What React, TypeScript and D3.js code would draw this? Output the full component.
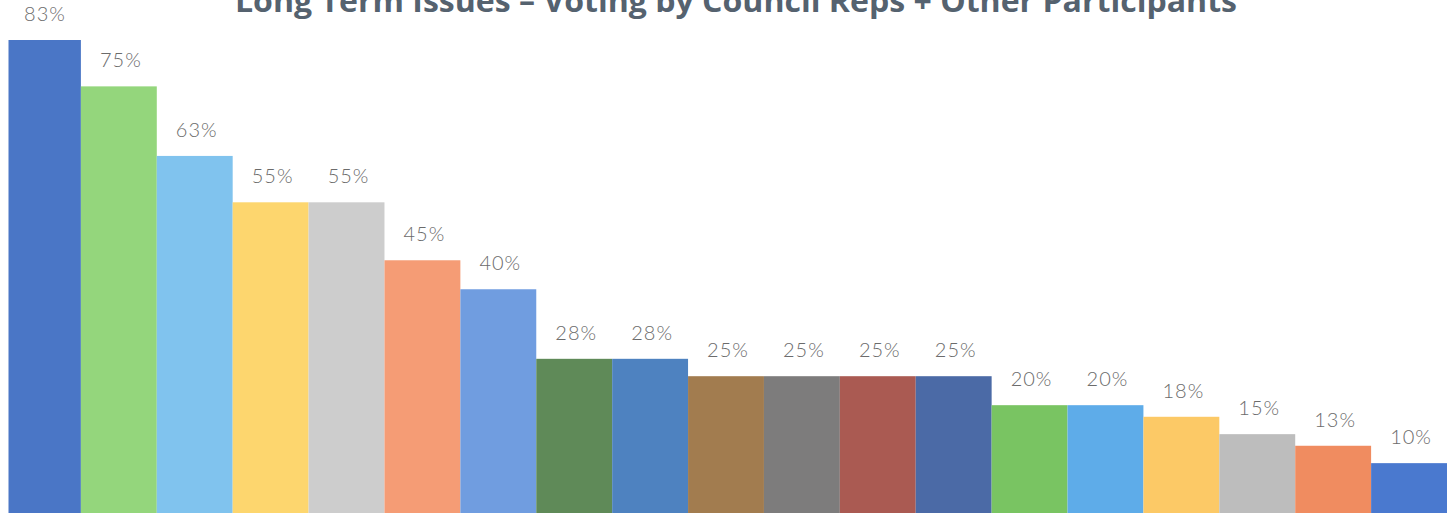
import React from "react";
import * as d3 from "d3";

const categories = [
  "Issue 1", "Issue 2", "Issue 3", "Issue 4", "Issue 5", "Issue 6", "Issue 7",
  "Issue 8", "Issue 9", "Issue 10", "Issue 11", "Issue 12", "Issue 13",
  "Issue 14", "Issue 15", "Issue 16", "Issue 17", "Issue 18", "Issue 19",
];
const values = [83, 75, 63, 55, 55, 45, 40, 28, 28, 25, 25, 25, 25, 20, 20, 18, 15, 13, 10];
const colors = [
  "#4a76c6", "#94d67c", "#80c3ee", "#fdd66e", "#cdcdcd", "#f59c75", "#709de0",
  "#5f8a58", "#4e82c0", "#a27c4f", "#7d7c7c", "#aa5a52", "#4b6aa6",
  "#79c462", "#5eace9", "#fcc966", "#bdbdbd", "#f08c60", "#4a79cf",
];
const title = "Long Term Issues – Voting by Council Reps + Other Participants";

const W = 1452;
const H = 518;

export default function App() {
  const x = d3.scaleBand<string>().domain(categories).range([5, 1447]).padding(0);
  const y = d3.scaleLinear().domain([1.4, 83]).range([513, 40]);

  return (
    <svg
      width={W}
      height={H}
      style={{ position: "absolute", left: 0, top: 0, background: "#fff" }}
    >
      <defs>
        <clipPath id="plotclip">
          <rect x={8.5} y={0} width={W} height={H} />
        </clipPath>
      </defs>
      <text
        x={736}
        y={12}
        textAnchor="middle"
        fontFamily="'Open Sans', sans-serif"
        fontWeight={700}
        fontSize={30}
        fill="#55626f"
        textLength={1002}
        lengthAdjust="spacingAndGlyphs"
      >
        {title}
      </text>
      <g clipPath="url(#plotclip)">
        {categories.map((c, i) => (
          <rect
            key={c}
            x={x(c)!}
            y={y(values[i])}
            width={x.bandwidth()}
            height={y(1.4) - y(values[i])}
            fill={colors[i]}
          />
        ))}
      </g>
      {categories.map((c, i) => (
        <text
          key={"l" + c}
          x={x(c)! + x.bandwidth() / 2 + 2}
          y={y(values[i]) - 19}
          textAnchor="middle"
          fontFamily="Lato, 'Open Sans', sans-serif"
          fontWeight={300}
          fontSize={20}
          letterSpacing={1}
          fill="#6b6b6b"
        >
          {values[i] + "%"}
        </text>
      ))}
    </svg>
  );
}
